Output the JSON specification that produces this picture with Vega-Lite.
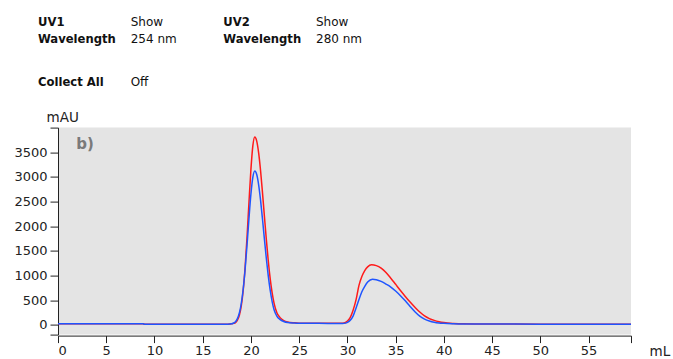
{
  "$schema": "https://vega.github.io/schema/vega-lite/v6.json",
  "padding": {"left": 13, "top": 16, "right": 5, "bottom": 2},
  "background": "white",
  "config": {"view": {"stroke": null}, "font": "DejaVu Sans"},
  "bounds": "flush",
  "spacing": 41.6,
  "vconcat": [
    {
      "width": 278,
      "height": 60,
      "data": {"values": [
        {"row": "1", "col": "1", "kind": "key", "text": "UV1\nWavelength"},
        {"row": "1", "col": "2", "kind": "value", "text": "Show\n254 nm"},
        {"row": "1", "col": "3", "kind": "key", "text": "UV2\nWavelength"},
        {"row": "1", "col": "4", "kind": "value", "text": "Show\n280 nm"},
        {"row": "2", "col": "1", "kind": "key", "text": "Collect All"},
        {"row": "2", "col": "2", "kind": "value", "text": "Off"}
      ]},
      "layer": [
        {
          "transform": [{"filter": "datum.kind == 'key'"}],
          "mark": {"type": "text", "align": "left", "baseline": "alphabetic", "fontSize": 11.6, "fontWeight": "bold", "lineBreak": "\n", "lineHeight": 17.3, "dx": -20, "color": "#111111", "font": "DejaVu Sans"},
          "encoding": {
            "x": {"field": "col", "type": "ordinal", "scale": {"type": "point", "padding": 0}, "axis": null},
            "y": {"field": "row", "type": "ordinal", "scale": {"type": "point", "padding": 0}, "axis": null},
            "text": {"field": "text"}
          }
        },
        {
          "transform": [{"filter": "datum.kind == 'value'"}],
          "mark": {"type": "text", "align": "left", "baseline": "alphabetic", "fontSize": 12, "fontWeight": "normal", "lineBreak": "\n", "lineHeight": 17.3, "dx": -20, "color": "#111111", "font": "DejaVu Sans"},
          "encoding": {
            "x": {"field": "col", "type": "ordinal", "scale": {"type": "point", "padding": 0}, "axis": null},
            "y": {"field": "row", "type": "ordinal", "scale": {"type": "point", "padding": 0}, "axis": null},
            "text": {"field": "text"}
          }
        }
      ]
    },
    {
      "width": 573,
      "height": 207,
      "view": {"fill": "#e4e4e4", "stroke": null},
      "layer": [
        {
          "data": {"values": [
            {"series": "UV1 254 nm", "mL": 0, "mAU": 20},
            {"series": "UV1 254 nm", "mL": 4, "mAU": 20},
            {"series": "UV1 254 nm", "mL": 8.8, "mAU": 20},
            {"series": "UV1 254 nm", "mL": 9.0, "mAU": 8},
            {"series": "UV1 254 nm", "mL": 12, "mAU": 8},
            {"series": "UV1 254 nm", "mL": 16, "mAU": 9},
            {"series": "UV1 254 nm", "mL": 17, "mAU": 10},
            {"series": "UV1 254 nm", "mL": 17.6, "mAU": 12},
            {"series": "UV1 254 nm", "mL": 18, "mAU": 18},
            {"series": "UV1 254 nm", "mL": 18.2, "mAU": 28},
            {"series": "UV1 254 nm", "mL": 18.4, "mAU": 44},
            {"series": "UV1 254 nm", "mL": 18.6, "mAU": 93},
            {"series": "UV1 254 nm", "mL": 18.8, "mAU": 194},
            {"series": "UV1 254 nm", "mL": 19.0, "mAU": 384},
            {"series": "UV1 254 nm", "mL": 19.2, "mAU": 701},
            {"series": "UV1 254 nm", "mL": 19.4, "mAU": 1174},
            {"series": "UV1 254 nm", "mL": 19.6, "mAU": 1792},
            {"series": "UV1 254 nm", "mL": 19.8, "mAU": 2492},
            {"series": "UV1 254 nm", "mL": 20.0, "mAU": 3154},
            {"series": "UV1 254 nm", "mL": 20.2, "mAU": 3635},
            {"series": "UV1 254 nm", "mL": 20.4, "mAU": 3810},
            {"series": "UV1 254 nm", "mL": 20.6, "mAU": 3727},
            {"series": "UV1 254 nm", "mL": 20.8, "mAU": 3488},
            {"series": "UV1 254 nm", "mL": 21.0, "mAU": 3124},
            {"series": "UV1 254 nm", "mL": 21.2, "mAU": 2675},
            {"series": "UV1 254 nm", "mL": 21.4, "mAU": 2194},
            {"series": "UV1 254 nm", "mL": 21.6, "mAU": 1721},
            {"series": "UV1 254 nm", "mL": 21.8, "mAU": 1293},
            {"series": "UV1 254 nm", "mL": 22.0, "mAU": 931},
            {"series": "UV1 254 nm", "mL": 22.2, "mAU": 645},
            {"series": "UV1 254 nm", "mL": 22.4, "mAU": 435},
            {"series": "UV1 254 nm", "mL": 22.7, "mAU": 240},
            {"series": "UV1 254 nm", "mL": 23.0, "mAU": 150},
            {"series": "UV1 254 nm", "mL": 23.4, "mAU": 85},
            {"series": "UV1 254 nm", "mL": 23.8, "mAU": 55},
            {"series": "UV1 254 nm", "mL": 24.5, "mAU": 38},
            {"series": "UV1 254 nm", "mL": 25, "mAU": 32},
            {"series": "UV1 254 nm", "mL": 27, "mAU": 28},
            {"series": "UV1 254 nm", "mL": 29, "mAU": 28},
            {"series": "UV1 254 nm", "mL": 29.5, "mAU": 30},
            {"series": "UV1 254 nm", "mL": 29.8, "mAU": 45},
            {"series": "UV1 254 nm", "mL": 30.0, "mAU": 75},
            {"series": "UV1 254 nm", "mL": 30.3, "mAU": 150},
            {"series": "UV1 254 nm", "mL": 30.6, "mAU": 300},
            {"series": "UV1 254 nm", "mL": 30.9, "mAU": 510},
            {"series": "UV1 254 nm", "mL": 31.2, "mAU": 800},
            {"series": "UV1 254 nm", "mL": 31.5, "mAU": 980},
            {"series": "UV1 254 nm", "mL": 31.8, "mAU": 1100},
            {"series": "UV1 254 nm", "mL": 32.1, "mAU": 1175},
            {"series": "UV1 254 nm", "mL": 32.5, "mAU": 1215},
            {"series": "UV1 254 nm", "mL": 33.0, "mAU": 1200},
            {"series": "UV1 254 nm", "mL": 33.5, "mAU": 1150},
            {"series": "UV1 254 nm", "mL": 34.0, "mAU": 1060},
            {"series": "UV1 254 nm", "mL": 34.5, "mAU": 945},
            {"series": "UV1 254 nm", "mL": 35.0, "mAU": 820},
            {"series": "UV1 254 nm", "mL": 35.5, "mAU": 695},
            {"series": "UV1 254 nm", "mL": 36.0, "mAU": 575},
            {"series": "UV1 254 nm", "mL": 36.5, "mAU": 460},
            {"series": "UV1 254 nm", "mL": 37.0, "mAU": 355},
            {"series": "UV1 254 nm", "mL": 37.5, "mAU": 258},
            {"series": "UV1 254 nm", "mL": 38.0, "mAU": 180},
            {"series": "UV1 254 nm", "mL": 38.5, "mAU": 125},
            {"series": "UV1 254 nm", "mL": 39.0, "mAU": 88},
            {"series": "UV1 254 nm", "mL": 39.5, "mAU": 62},
            {"series": "UV1 254 nm", "mL": 40, "mAU": 44},
            {"series": "UV1 254 nm", "mL": 41, "mAU": 26},
            {"series": "UV1 254 nm", "mL": 42, "mAU": 18},
            {"series": "UV1 254 nm", "mL": 45, "mAU": 14},
            {"series": "UV1 254 nm", "mL": 50, "mAU": 12},
            {"series": "UV1 254 nm", "mL": 59.4, "mAU": 12},
            {"series": "UV2 280 nm", "mL": 0, "mAU": 20},
            {"series": "UV2 280 nm", "mL": 4, "mAU": 20},
            {"series": "UV2 280 nm", "mL": 8.8, "mAU": 20},
            {"series": "UV2 280 nm", "mL": 9.0, "mAU": 8},
            {"series": "UV2 280 nm", "mL": 12, "mAU": 8},
            {"series": "UV2 280 nm", "mL": 16, "mAU": 9},
            {"series": "UV2 280 nm", "mL": 17, "mAU": 10},
            {"series": "UV2 280 nm", "mL": 17.6, "mAU": 12},
            {"series": "UV2 280 nm", "mL": 18, "mAU": 18},
            {"series": "UV2 280 nm", "mL": 18.2, "mAU": 35},
            {"series": "UV2 280 nm", "mL": 18.4, "mAU": 63},
            {"series": "UV2 280 nm", "mL": 18.6, "mAU": 124},
            {"series": "UV2 280 nm", "mL": 18.8, "mAU": 238},
            {"series": "UV2 280 nm", "mL": 19.0, "mAU": 431},
            {"series": "UV2 280 nm", "mL": 19.2, "mAU": 726},
            {"series": "UV2 280 nm", "mL": 19.4, "mAU": 1131},
            {"series": "UV2 280 nm", "mL": 19.6, "mAU": 1628},
            {"series": "UV2 280 nm", "mL": 19.8, "mAU": 2165},
            {"series": "UV2 280 nm", "mL": 20.0, "mAU": 2652},
            {"series": "UV2 280 nm", "mL": 20.2, "mAU": 2996},
            {"series": "UV2 280 nm", "mL": 20.4, "mAU": 3120},
            {"series": "UV2 280 nm", "mL": 20.6, "mAU": 3048},
            {"series": "UV2 280 nm", "mL": 20.8, "mAU": 2840},
            {"series": "UV2 280 nm", "mL": 21.0, "mAU": 2524},
            {"series": "UV2 280 nm", "mL": 21.2, "mAU": 2141},
            {"series": "UV2 280 nm", "mL": 21.4, "mAU": 1733},
            {"series": "UV2 280 nm", "mL": 21.6, "mAU": 1338},
            {"series": "UV2 280 nm", "mL": 21.8, "mAU": 987},
            {"series": "UV2 280 nm", "mL": 22.0, "mAU": 696},
            {"series": "UV2 280 nm", "mL": 22.2, "mAU": 469},
            {"series": "UV2 280 nm", "mL": 22.4, "mAU": 303},
            {"series": "UV2 280 nm", "mL": 22.7, "mAU": 170},
            {"series": "UV2 280 nm", "mL": 23.0, "mAU": 110},
            {"series": "UV2 280 nm", "mL": 23.4, "mAU": 65},
            {"series": "UV2 280 nm", "mL": 23.8, "mAU": 45},
            {"series": "UV2 280 nm", "mL": 24.5, "mAU": 36},
            {"series": "UV2 280 nm", "mL": 25, "mAU": 32},
            {"series": "UV2 280 nm", "mL": 27, "mAU": 28},
            {"series": "UV2 280 nm", "mL": 29, "mAU": 27},
            {"series": "UV2 280 nm", "mL": 29.5, "mAU": 25},
            {"series": "UV2 280 nm", "mL": 29.8, "mAU": 33},
            {"series": "UV2 280 nm", "mL": 30.0, "mAU": 48},
            {"series": "UV2 280 nm", "mL": 30.3, "mAU": 90},
            {"series": "UV2 280 nm", "mL": 30.6, "mAU": 180},
            {"series": "UV2 280 nm", "mL": 30.9, "mAU": 340},
            {"series": "UV2 280 nm", "mL": 31.2, "mAU": 510},
            {"series": "UV2 280 nm", "mL": 31.5, "mAU": 670},
            {"series": "UV2 280 nm", "mL": 31.8, "mAU": 780},
            {"series": "UV2 280 nm", "mL": 32.1, "mAU": 865},
            {"series": "UV2 280 nm", "mL": 32.6, "mAU": 925},
            {"series": "UV2 280 nm", "mL": 33.0, "mAU": 915},
            {"series": "UV2 280 nm", "mL": 33.5, "mAU": 880},
            {"series": "UV2 280 nm", "mL": 34.0, "mAU": 825},
            {"series": "UV2 280 nm", "mL": 34.5, "mAU": 765},
            {"series": "UV2 280 nm", "mL": 35.0, "mAU": 685},
            {"series": "UV2 280 nm", "mL": 35.5, "mAU": 590},
            {"series": "UV2 280 nm", "mL": 36.0, "mAU": 485},
            {"series": "UV2 280 nm", "mL": 36.5, "mAU": 372},
            {"series": "UV2 280 nm", "mL": 37.0, "mAU": 265},
            {"series": "UV2 280 nm", "mL": 37.5, "mAU": 175},
            {"series": "UV2 280 nm", "mL": 38.0, "mAU": 115},
            {"series": "UV2 280 nm", "mL": 38.5, "mAU": 76},
            {"series": "UV2 280 nm", "mL": 39.0, "mAU": 51},
            {"series": "UV2 280 nm", "mL": 39.5, "mAU": 36},
            {"series": "UV2 280 nm", "mL": 40, "mAU": 28},
            {"series": "UV2 280 nm", "mL": 41, "mAU": 20},
            {"series": "UV2 280 nm", "mL": 42, "mAU": 16},
            {"series": "UV2 280 nm", "mL": 45, "mAU": 14},
            {"series": "UV2 280 nm", "mL": 50, "mAU": 12},
            {"series": "UV2 280 nm", "mL": 59.4, "mAU": 12}
          ]},
          "mark": {"type": "line", "interpolate": "monotone", "strokeWidth": 1.5},
          "encoding": {
            "x": {
              "field": "mL", "type": "quantitative",
              "scale": {"domain": [0, 59.4], "nice": false, "zero": false},
              "axis": {
                "values": [0, 5, 10, 15, 20, 25, 30, 35, 40, 45, 50, 55, 59.4],
                "tickCount": 30,
                "labelExpr": "datum.value > 56 ? '' : datum.label",
                "format": "d",
                "labelOverlap": false,
                "grid": false, "offset": 1,
                "tickSize": 7, "labelPadding": 2,
                "labelFont": "DejaVu Sans", "labelFontSize": 13, "labelColor": "#222222",
                "domainColor": "#222222", "tickColor": "#222222",
                "title": "mL", "titleFont": "DejaVu Sans", "titleFontSize": 13.5, "titleFontWeight": "normal", "titleColor": "#222222",
                "titleAlign": "left", "titleBaseline": "alphabetic", "titleX": 591, "titleY": 20, "titleAnchor": "start"
              }
            },
            "y": {
              "field": "mAU", "type": "quantitative",
              "scale": {"domain": [-200, 4000], "nice": false, "zero": false},
              "axis": {
                "values": [-200, 0, 500, 1000, 1500, 2000, 2500, 3000, 3500, 4000],
                "tickCount": 30,
                "labelExpr": "datum.value < 0 || datum.value > 3600 ? '' : datum.label",
                "format": "d",
                "labelOverlap": false,
                "grid": false,
                "tickSize": 8, "labelPadding": 3,
                "labelFont": "DejaVu Sans", "labelFontSize": 13, "labelColor": "#222222",
                "domainColor": "#222222", "tickColor": "#222222",
                "title": "mAU", "titleFont": "DejaVu Sans", "titleFontSize": 13.5, "titleFontWeight": "normal", "titleColor": "#222222",
                "titleAngle": 0, "titleAlign": "left", "titleBaseline": "alphabetic", "titleX": -12, "titleY": -6, "titleAnchor": "start"
              }
            },
            "color": {
              "field": "series", "type": "nominal",
              "scale": {"domain": ["UV1 254 nm", "UV2 280 nm"], "range": ["#ff1a1a", "#1f55ff"]},
              "legend": null
            }
          }
        },
        {
          "data": {"values": [{"mL": 1.9, "mAU": 3557, "label": "b)"}]},
          "mark": {"type": "text", "align": "left", "baseline": "alphabetic", "fontSize": 15, "fontWeight": "bold", "color": "#7a7a7a", "font": "DejaVu Sans"},
          "encoding": {
            "x": {"field": "mL", "type": "quantitative"},
            "y": {"field": "mAU", "type": "quantitative"},
            "text": {"field": "label"}
          }
        }
      ]
    }
  ]
}
